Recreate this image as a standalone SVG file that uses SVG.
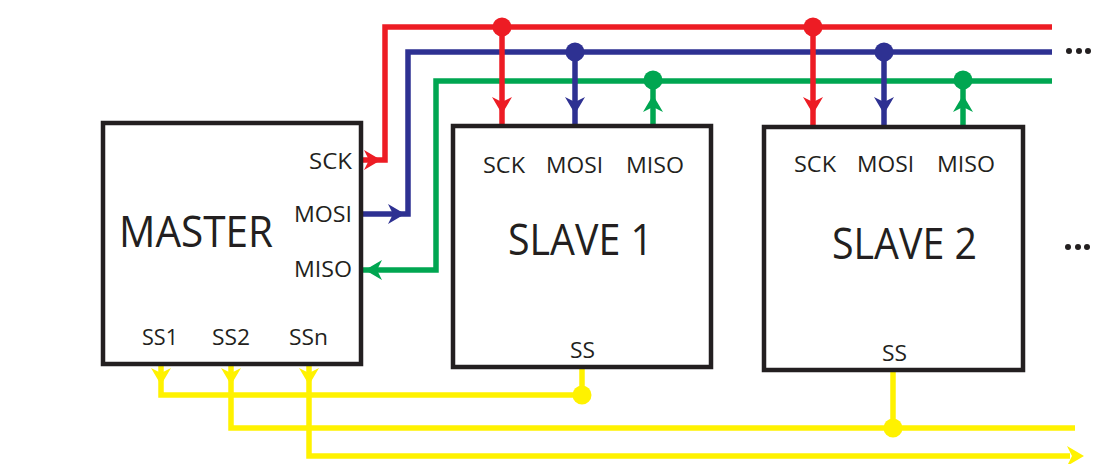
<svg xmlns="http://www.w3.org/2000/svg" xmlns:xlink="http://www.w3.org/1999/xlink" width="1119" height="464" viewBox="0 0 1119 464">
<style>
.box{fill:#ffffff;stroke:#231F20;stroke-width:4.5}
.w{fill:none;stroke-width:5.5;stroke-linejoin:miter;stroke-linecap:butt}
.r{stroke:#ED1C24}.b{stroke:#2E3192}.g{stroke:#00A651}.y{stroke:#FFF200}
.rf{fill:#ED1C24}.bf{fill:#2E3192}.gf{fill:#00A651}.yf{fill:#FFF200}
.t{font-family:"Open Sans","Noto Sans",sans-serif;fill:#231F20}
.s{font-size:22px}.big{font-size:43px}
.dot{fill:#231F20}
</style>
<defs>
<path id="ah" d="M0,0 L-17,-10 L-12,0 L-17,10 Z"/>
</defs>
<rect width="1119" height="464" fill="#ffffff"/>
<g id="connectors">
<path class="w r" d="M1052,27 H385 V160 H363"/>
<path class="w b" d="M1052,52 H408 V214 H363"/>
<path class="w g" d="M1052,81 H436 V270 H363"/>
<path class="w r" d="M502,27 V126"/>
<path class="w b" d="M575,52 V126"/>
<path class="w g" d="M653,81 V126"/>
<path class="w r" d="M813,27 V127"/>
<path class="w b" d="M884,52 V127"/>
<path class="w g" d="M963,81 V127"/>
<path class="w y" d="M161,365 V395 H582"/>
<path class="w y" d="M582,369 V395"/>
<path class="w y" d="M231,365 V428 H1075"/>
<path class="w y" d="M893,372 V428"/>
<path class="w y" d="M309,365 V456 H1070"/>
<circle class="rf" cx="502" cy="27" r="9.5"/>
<circle class="bf" cx="575" cy="52" r="9.5"/>
<circle class="gf" cx="653" cy="80" r="9.5"/>
<circle class="rf" cx="813" cy="27" r="9.5"/>
<circle class="bf" cx="884" cy="52" r="9.5"/>
<circle class="gf" cx="963" cy="80" r="9.5"/>
<circle class="yf" cx="582" cy="395" r="9.5"/>
<circle class="yf" cx="893" cy="428" r="9.5"/>
<use xlink:href="#ah" class="rf" transform="translate(381,160)"/>
<use xlink:href="#ah" class="bf" transform="translate(405,214)"/>
<use xlink:href="#ah" class="gf" transform="translate(365,270) rotate(180)"/>
<use xlink:href="#ah" class="rf" transform="translate(502,114) rotate(90)"/>
<use xlink:href="#ah" class="bf" transform="translate(575,114) rotate(90)"/>
<use xlink:href="#ah" class="gf" transform="translate(653,95) rotate(-90)"/>
<use xlink:href="#ah" class="rf" transform="translate(813,114) rotate(90)"/>
<use xlink:href="#ah" class="bf" transform="translate(884,114) rotate(90)"/>
<use xlink:href="#ah" class="gf" transform="translate(963,95) rotate(-90)"/>
<use xlink:href="#ah" class="yf" transform="translate(161,385) rotate(90)"/>
<use xlink:href="#ah" class="yf" transform="translate(231,385) rotate(90)"/>
<use xlink:href="#ah" class="yf" transform="translate(309,385) rotate(90)"/>
<use xlink:href="#ah" class="yf" transform="translate(1084,456)"/>
</g>
<g id="master">
<rect class="box" x="103" y="123" width="258" height="241"/>
<text class="t big" x="119" y="247" textLength="154" lengthAdjust="spacingAndGlyphs">MASTER</text>
<text class="t s" x="309" y="169" textLength="43" lengthAdjust="spacingAndGlyphs">SCK</text>
<text class="t s" x="294" y="222" textLength="58" lengthAdjust="spacingAndGlyphs">MOSI</text>
<text class="t s" x="294" y="277" textLength="58" lengthAdjust="spacingAndGlyphs">MISO</text>
<text class="t s" x="142" y="345" textLength="36" lengthAdjust="spacingAndGlyphs">SS1</text>
<text class="t s" x="212" y="345" textLength="38" lengthAdjust="spacingAndGlyphs">SS2</text>
<text class="t s" x="289" y="345" textLength="39" lengthAdjust="spacingAndGlyphs">SSn</text>
</g>
<g id="slave1">
<rect class="box" x="453" y="126" width="258" height="241"/>
<text class="t s" x="483" y="173" textLength="42" lengthAdjust="spacingAndGlyphs">SCK</text>
<text class="t s" x="546" y="173" textLength="57" lengthAdjust="spacingAndGlyphs">MOSI</text>
<text class="t s" x="626" y="173" textLength="58" lengthAdjust="spacingAndGlyphs">MISO</text>
<text class="t big" x="508" y="255" textLength="145" lengthAdjust="spacingAndGlyphs">SLAVE 1</text>
<text class="t s" x="570" y="358" textLength="25" lengthAdjust="spacingAndGlyphs">SS</text>
</g>
<g id="slave2">
<rect class="box" x="764" y="127" width="259" height="243"/>
<text class="t s" x="794" y="172" textLength="42" lengthAdjust="spacingAndGlyphs">SCK</text>
<text class="t s" x="857" y="172" textLength="57" lengthAdjust="spacingAndGlyphs">MOSI</text>
<text class="t s" x="937" y="172" textLength="58" lengthAdjust="spacingAndGlyphs">MISO</text>
<text class="t big" x="832" y="259" textLength="145" lengthAdjust="spacingAndGlyphs">SLAVE 2</text>
<text class="t s" x="882" y="361" textLength="25" lengthAdjust="spacingAndGlyphs">SS</text>
</g>
<g id="ellipsis">
<circle class="dot" cx="1069" cy="51" r="3"/>
<circle class="dot" cx="1079" cy="51" r="3"/>
<circle class="dot" cx="1088" cy="51" r="3"/>
<circle class="dot" cx="1068" cy="247" r="3"/>
<circle class="dot" cx="1078" cy="247" r="3"/>
<circle class="dot" cx="1087" cy="247" r="3"/>
</g>
</svg>
